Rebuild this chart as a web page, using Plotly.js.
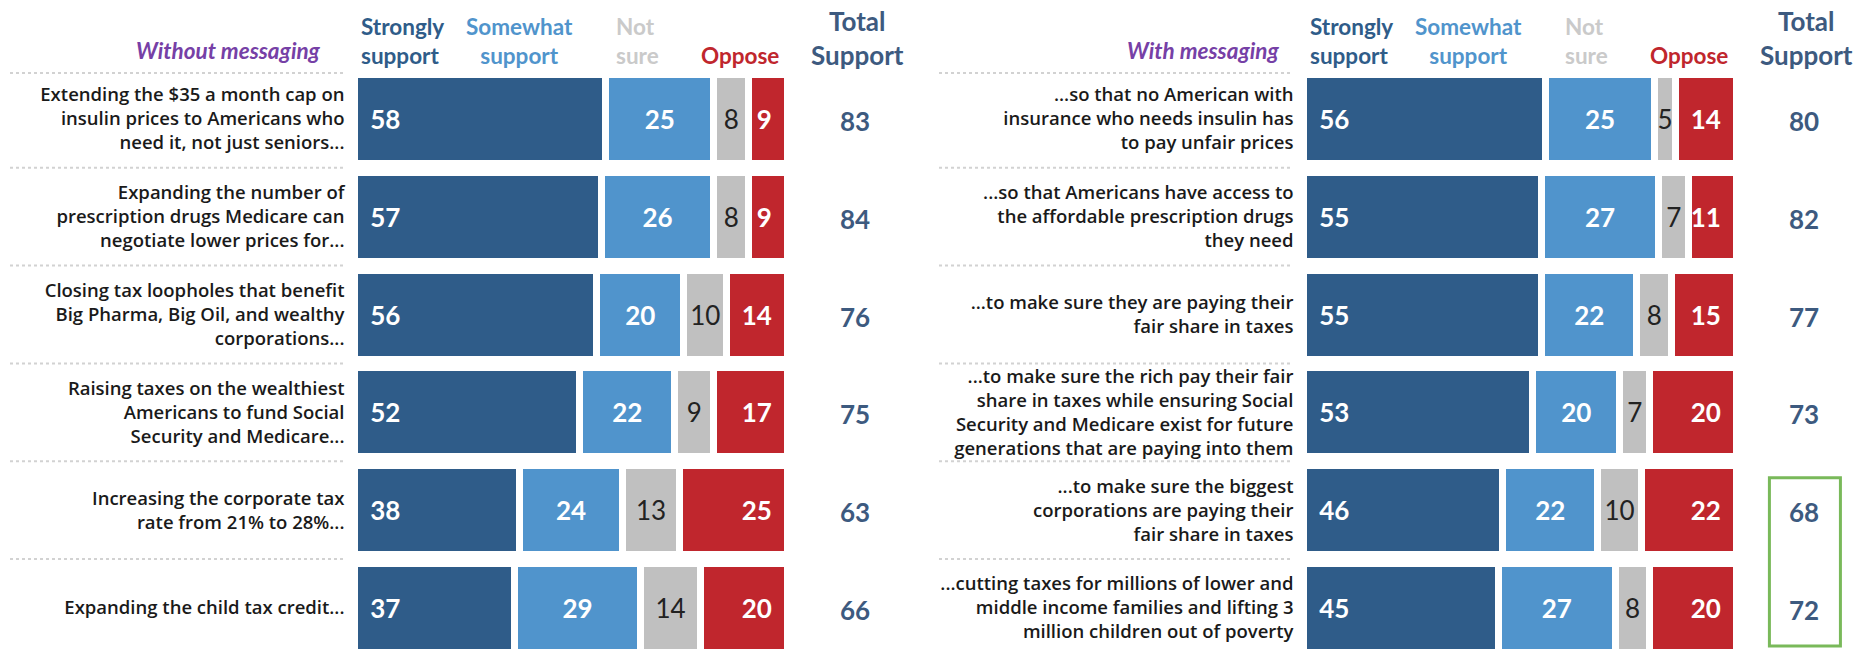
<!DOCTYPE html>
<html>
<head>
<meta charset="utf-8">
<script src="https://cdn.plot.ly/plotly-3.0.1.min.js"></script>
<style>html,body{margin:0;padding:0;background:#fff;}#chart{width:1859px;height:649px;}</style>
</head>
<body>
<div id="chart"></div>
<script>
// ---------- DATA ----------
const leftLabels = [
  "Extending the $35 a month cap on<br>insulin prices to Americans who<br>need it, not just seniors...",
  "Expanding the number of<br>prescription drugs Medicare can<br>negotiate lower prices for...",
  "Closing tax loopholes that benefit<br>Big Pharma, Big Oil, and wealthy<br>corporations...",
  "Raising taxes on the wealthiest<br>Americans to fund Social<br>Security and Medicare...",
  "Increasing the corporate tax<br>rate from 21% to 28%...",
  "Expanding the child tax credit..."
];
const rightLabels = [
  "...so that no American with<br>insurance who needs insulin has<br>to pay unfair prices",
  "...so that Americans have access to<br>the affordable prescription drugs<br>they need",
  "...to make sure they are paying their<br>fair share in taxes",
  "...to make sure the rich pay their fair<br>share in taxes while ensuring Social<br>Security and Medicare exist for future<br>generations that are paying into them",
  "...to make sure the biggest<br>corporations are paying their<br>fair share in taxes",
  "...cutting taxes for millions of lower and<br>middle income families and lifting 3<br>million children out of poverty"
];
const leftStrongly = [58, 57, 56, 52, 38, 37];
const leftSomewhat = [25, 26, 20, 22, 24, 29];
const leftNotSure  = [8, 8, 10, 9, 13, 14];
const leftOppose   = [9, 9, 14, 17, 25, 20];
const leftTotal    = [83, 84, 76, 75, 63, 66];

const rightStrongly = [56, 55, 55, 53, 46, 45];
const rightSomewhat = [25, 27, 22, 20, 22, 27];
const rightNotSure  = [5, 7, 8, 7, 10, 8];
const rightOppose   = [14, 11, 15, 20, 22, 20];
const rightTotal    = [80, 82, 77, 73, 68, 72];

const seriesNames = ["Strongly support", "Somewhat support", "Not sure", "Oppose"];
const panelTitles = ["Without messaging", "With messaging"];

// ---------- STYLE ----------
const W = 1859, H = 649;
const C_STRONG = "#2f5c89", C_SOME = "#5094cc", C_NOT = "#c0c0c0", C_OPP = "#c0262d";
const C_TOTAL = "#3d5a7f", C_PURPLE = "#7640a6";
const NUM_FONT = "Lato, 'Open Sans', sans-serif";
const LBL_FONT = "'Open Sans', Roboto, sans-serif";
const NB = "\u00a0\u00a0";
const px = v => v / W;
const py = v => 1 - v / H;
const GAP = 7;          // white gap between segments
const BARW = 0.91;      // category units
const PXU = 4.33;       // pixels per axis unit
const XMAX = 125;       // axis range end (leaves room for totals column)
const TOTAL_X = 115.5;  // position (axis units) of the Total Support column

function panelTraces(labels, vals, xa, ya) {
  const colors = [C_STRONG, C_SOME, C_NOT, C_OPP];
  const anchors = ["start", "middle", "middle", "end"];
  const tmpl = [NB + "%{x}", "%{x}", "%{x}", "%{x}" + NB];
  const tcol = ["#ffffff", "#ffffff", "#222222", "#ffffff"];
  return vals.map((v, i) => ({
    type: "bar", orientation: "h", name: seriesNames[i],
    x: v, y: labels, xaxis: xa, yaxis: ya,
    width: BARW,
    marker: {color: colors[i], line: {color: "#ffffff", width: GAP}},
    texttemplate: tmpl[i], textposition: "inside", insidetextanchor: anchors[i],
    textangle: 0, constraintext: "none",
    textfont: {family: NUM_FONT, size: 26, color: tcol[i], weight: i === 2 ? 400 : 700},
    hoverinfo: "x+name", showlegend: false
  }));
}

const data = [
  ...panelTraces(leftLabels, [leftStrongly, leftSomewhat, leftNotSure, leftOppose], "x", "y"),
  ...panelTraces(rightLabels, [rightStrongly, rightSomewhat, rightNotSure, rightOppose], "x2", "y2")
];

const yTop = 70, pitch = 97.8;
const yDomain = [0, py(yTop)];
const yRange = [-0.5 + (H - yTop) / pitch, -0.5];

function yaxisDef(labels, anchor) {
  return {
    type: "category", categoryarray: labels, range: yRange, domain: yDomain,
    anchor: anchor, showgrid: false, zeroline: false, showline: false, ticks: "",
    ticklabelstandoff: 9, automargin: false, fixedrange: true,
    tickfont: {family: LBL_FONT, size: 18.5, color: "#1a1a1a", weight: 600}
  };
}
function xaxisDef(x0, anchor) {
  return {
    range: [0, XMAX], domain: [px(x0), px(x0 + XMAX * PXU)], anchor: anchor,
    showgrid: false, zeroline: false, showline: false, showticklabels: false, ticks: "",
    fixedrange: true
  };
}

const panels = [
  {off: 0, xref: "x", yref: "y", titleRight: 323, labelL: 10, labelR: 344, totals: leftTotal},
  {off: 949, xref: "x2", yref: "y2", titleRight: 1281, labelL: 939, labelR: 1292, totals: rightTotal}
];

const annotations = [];
const shapes = [];
panels.forEach((p, k) => {
  const o = p.off;
  const hdr = (text, x, y, anchor, color, size, align) => annotations.push({
    text: text, x: px(x + o), y: py(y), xref: "paper", yref: "paper",
    xanchor: anchor, yanchor: "middle", align: align || anchor, showarrow: false,
    font: {family: NUM_FONT, size: size, color: color, weight: 700}
  });
  annotations.push({
    text: panelTitles[k], x: px(p.titleRight), y: py(50), xref: "paper", yref: "paper",
    xanchor: "right", yanchor: "middle", showarrow: false,
    font: {family: NUM_FONT, size: 22.5, color: C_PURPLE, weight: 700, style: "italic"}
  });
  hdr("Strongly<br>support", 359, 41, "left", C_STRONG, 22.5, "left");
  hdr("Somewhat<br>support", 519, 41, "center", C_SOME, 22.5, "center");
  hdr("Not<br>sure", 614, 41, "left", "#cacaca", 22.5, "left");
  hdr("Oppose", 781, 55, "right", C_OPP, 22.5, "right");
  hdr("Total<br>Support", 857, 38, "center", C_TOTAL, 26, "center");
  // Total Support column, one value per row on the panel's axes
  p.totals.forEach((t, i) => annotations.push({
    text: String(t), x: TOTAL_X, y: i, xref: p.xref, yref: p.yref,
    xanchor: "center", yanchor: "middle", yshift: -2, showarrow: false,
    font: {family: NUM_FONT, size: 26, color: C_TOTAL, weight: 700}
  }));
  // dotted separators
  shapes.push({
    type: "line", xref: "paper", yref: "paper",
    x0: px(p.labelL), x1: px(p.labelR), y0: py(73), y1: py(73),
    line: {color: "#d2d2d2", width: 2, dash: "dot"}
  });
  for (let i = 1; i < 6; i++) {
    shapes.push({
      type: "line", xref: "paper", yref: p.yref,
      x0: px(p.labelL), x1: px(p.labelR), y0: i - 0.5, y1: i - 0.5,
      line: {color: "#d2d2d2", width: 2, dash: "dot"}
    });
  }
});
// highlight box around the last two totals of the right panel
shapes.push({
  type: "rect", xref: "x2", yref: "y2", x0: 107.6, x1: 124.0, y0: 3.67, y1: 5.39,
  line: {color: "#79b95a", width: 3}, fillcolor: "rgba(0,0,0,0)"
});

const layout = {
  width: W, height: H, margin: {l: 0, r: 0, t: 0, b: 0},
  paper_bgcolor: "#ffffff", plot_bgcolor: "#ffffff",
  barmode: "stack", showlegend: false,
  xaxis: xaxisDef(354.5, "y"), yaxis: yaxisDef(leftLabels, "x"),
  xaxis2: xaxisDef(1303.5, "y2"), yaxis2: yaxisDef(rightLabels, "x2"),
  annotations: annotations, shapes: shapes
};

Plotly.newPlot("chart", data, layout, {displayModeBar: false, staticPlot: true});
</script>
</body>
</html>
